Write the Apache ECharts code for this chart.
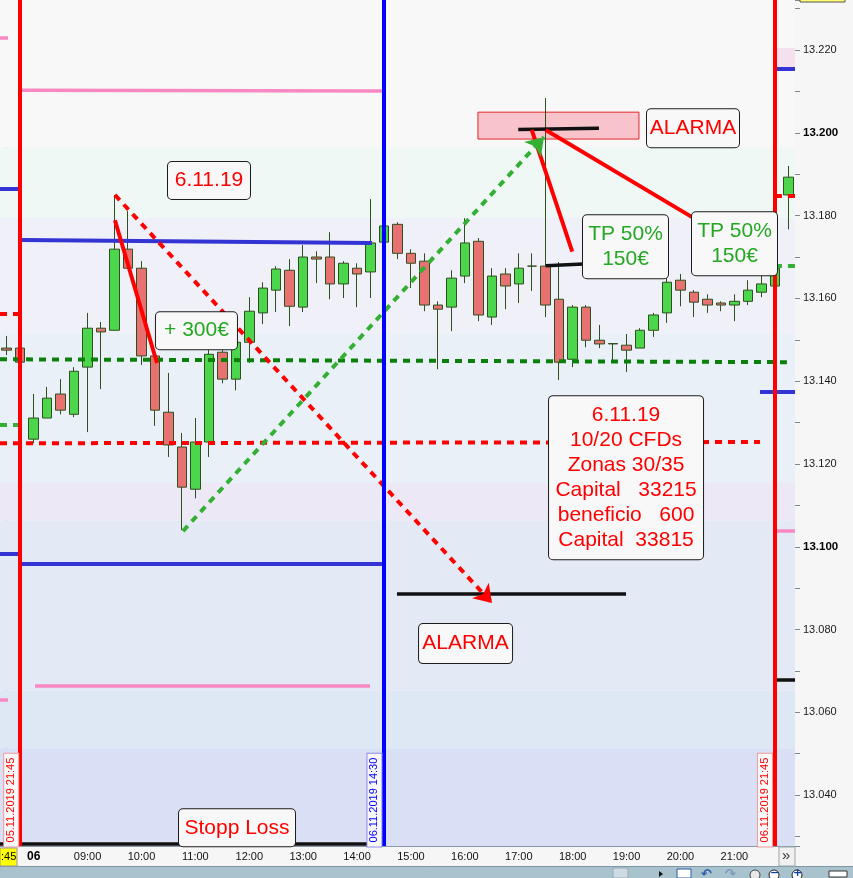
<!DOCTYPE html>
<html>
<head>
<meta charset="utf-8">
<title>CFD 06.11.2019</title>
<script src="https://cdn.jsdelivr.net/npm/echarts@6.0.0/dist/echarts.min.js"></script>
<style>
html, body { margin: 0; padding: 0; background: #f6f6f6; }
#main { width: 853px; height: 878px; }
</style>
</head>
<body>
<div id="main"></div>
<script>
// velas de 15 minutos, 05.11 21:30 -> 06.11 22:00
var times = ['05.11 21:30', '05.11 21:45',
    '08:00', '08:15', '08:30', '08:45', '09:00', '09:15', '09:30', '09:45',
    '10:00', '10:15', '10:30', '10:45', '11:00', '11:15', '11:30', '11:45',
    '12:00', '12:15', '12:30', '12:45', '13:00', '13:15', '13:30', '13:45',
    '14:00', '14:15', '14:30', '14:45', '15:00', '15:15', '15:30', '15:45',
    '16:00', '16:15', '16:30', '16:45', '17:00', '17:15', '17:30', '17:45',
    '18:00', '18:15', '18:30', '18:45', '19:00', '19:15', '19:30', '19:45',
    '20:00', '20:15', '20:30', '20:45', '21:00', '21:15', '21:30', '21:45', '22:00'];

// [apertura, cierre, minimo, maximo]
var candles = [
    [13.1480, 13.1475, 13.1463, 13.1509], [13.1480, 13.1446, 13.1439, 13.1487],
    [13.1260, 13.1311, 13.1250, 13.1369], [13.1311, 13.1359, 13.1311, 13.1386],
    [13.1369, 13.1330, 13.1320, 13.1405], [13.1320, 13.1424, 13.1313, 13.1434],
    [13.1434, 13.1528, 13.1277, 13.1565], [13.1528, 13.1519, 13.1381, 13.1543],
    [13.1523, 13.1719, 13.1523, 13.1850], [13.1719, 13.1673, 13.1673, 13.1811],
    [13.1673, 13.1461, 13.1439, 13.1690], [13.1461, 13.1330, 13.1292, 13.1461],
    [13.1325, 13.1246, 13.1217, 13.1420], [13.1241, 13.1144, 13.1040, 13.1275],
    [13.1139, 13.1253, 13.1117, 13.1311], [13.1253, 13.1465, 13.1217, 13.1482],
    [13.1470, 13.1405, 13.1395, 13.1492], [13.1405, 13.1494, 13.1378, 13.1504],
    [13.1494, 13.1569, 13.1444, 13.1603], [13.1565, 13.1625, 13.1538, 13.1639],
    [13.1620, 13.1671, 13.1567, 13.1678], [13.1668, 13.1581, 13.1533, 13.1695],
    [13.1579, 13.1700, 13.1567, 13.1729], [13.1700, 13.1695, 13.1637, 13.1714],
    [13.1700, 13.1635, 13.1598, 13.1760], [13.1635, 13.1685, 13.1601, 13.1690],
    [13.1673, 13.1659, 13.1579, 13.1685], [13.1664, 13.1734, 13.1601, 13.1840],
    [13.1736, 13.1775, 13.1729, 13.1784], [13.1779, 13.1709, 13.1695, 13.1784],
    [13.1709, 13.1685, 13.1625, 13.1719], [13.1690, 13.1584, 13.1569, 13.1709],
    [13.1584, 13.1574, 13.1429, 13.1593], [13.1579, 13.1649, 13.1521, 13.1668],
    [13.1654, 13.1734, 13.1637, 13.1794], [13.1738, 13.1560, 13.1545, 13.1746],
    [13.1555, 13.1654, 13.1536, 13.1673], [13.1659, 13.1630, 13.1574, 13.1673],
    [13.1635, 13.1673, 13.1589, 13.1709], [13.1678, 13.1678, 13.1618, 13.1709],
    [13.1678, 13.1584, 13.1555, 13.2084], [13.1598, 13.1446, 13.1403, 13.1688],
    [13.1453, 13.1579, 13.1434, 13.1584], [13.1579, 13.1499, 13.1482, 13.1584],
    [13.1499, 13.1490, 13.1480, 13.1536], [13.1491, 13.1490, 13.1446, 13.1492],
    [13.1487, 13.1475, 13.1422, 13.1514], [13.1480, 13.1523, 13.1480, 13.1528],
    [13.1523, 13.1560, 13.1507, 13.1565], [13.1565, 13.1639, 13.1541, 13.1651],
    [13.1644, 13.1620, 13.1581, 13.1659], [13.1615, 13.1591, 13.1555, 13.1620],
    [13.1598, 13.1584, 13.1565, 13.1610], [13.1589, 13.1584, 13.1569, 13.1593],
    [13.1584, 13.1593, 13.1545, 13.1610], [13.1593, 13.1620, 13.1584, 13.1644],
    [13.1615, 13.1635, 13.1603, 13.1656], [13.1630, 13.1673, 13.1625, 13.1688],
    [13.1850, 13.1893, 13.1767, 13.1920]
];

var priceMin = 13.0277, priceMax = 13.2321;

// zonas de fondo (limites de precio, de arriba a abajo)
var zoneEdges = [13.2321, 13.1965, 13.1794, 13.1516, 13.1154, 13.1064, 13.0653, 13.0513, 13.0277];
var alarmZone = [[34.97, 13.2050], [46.92, 13.1985]];
var topZone = [[57.01, 13.2205], [58.5, 13.2151]];

// lineas dibujadas: [[vela, precio], [vela, precio]]  (vela = indice en times)
var pinkLines = [
    [[1.13, 13.2103], [27.85, 13.2101]], [[-0.5, 13.2229], [0.09, 13.2229]],
    [[2.10, 13.0664], [26.96, 13.0664]], [[-0.5, 13.0630], [0.09, 13.0630]],
    [[57.01, 13.1038], [58.5, 13.1038]]
];
var blueLines = [
    [[1.13, 13.1741], [27.11, 13.1734]], [[-0.5, 13.1866], [0.98, 13.1866]],
    [[1.13, 13.0958], [27.92, 13.0958]], [[-0.5, 13.0982], [0.98, 13.0982]],
    [[57.01, 13.2154], [58.5, 13.2154]], [[55.9, 13.1374], [58.5, 13.1374]]
];
var blackLines = [
    [[37.96, 13.2008], [43.95, 13.2011]], [[40.0, 13.1679], [42.79, 13.1683]],
    [[28.96, 13.0886], [45.96, 13.0886]], [[-0.5, 13.0283], [26.96, 13.0283]],
    [[57.01, 13.0678], [58.5, 13.0678]]
];
var redLines = [
    [[8.03, 13.1789], [11.15, 13.1444]],
    [[38.96, 13.2007], [41.97, 13.1713]],
    [[40.0, 13.2007], [50.83, 13.1797]]
];
var redDashed = [
    [[-0.5, 13.1250], [55.9, 13.1253]], [[-0.5, 13.1562], [0.84, 13.1562]],
    [[57.01, 13.1847], [58.5, 13.1847]]
];
var greenDashed = [
    [[-0.5, 13.1294], [0.84, 13.1294]], [[57.01, 13.1678], [58.5, 13.1678]]
];
var supportLine = [[-0.5, 13.1453], [57.9, 13.1446]];
var redArrow = [[8.03, 13.1850], [36.01, 13.0864]];
var greenArrow = [[13.08, 13.1038], [39.87, 13.1990]];

// sesiones
var sessionIdx = [1, 28, 57];
var sessionTexts = ['05.11.2019 21:45', '06.11.2019 14:30', '06.11.2019 21:45'];
var sessionAnchors = [[0.33, 13.0388], [27.29, 13.0388], [56.27, 13.0388]];

// notas
var noteTexts = ['6.11.19', '+ 300€', 'ALARMA', 'TP 50%\n150€', 'TP 50%\n150€',
    '6.11.19\n10/20 CFDs\nZonas 30/35\nCapital   33215\nbeneficio   600\nCapital  33815',
    'ALARMA', 'Stopp Loss'];
var noteAnchors = [[15.01, 13.1885], [14.08, 13.1522], [50.93, 13.2011], [45.92, 13.1725],
    [54.01, 13.1732], [45.96, 13.1167], [34.05, 13.0766], [17.09, 13.0321]];

var FONT = 'Liberation Sans';
var RED = '#ff0000', GREEN = '#24a824';

var zoneColors = ['#f8f8f8', '#f0f8f6', '#f0f0f8', '#eaf0f8', '#ece8f5', '#e4e9f6', '#dee8f4', '#d9e0f5'];
var bands = [];
for (var z = 0; z < zoneColors.length; z++) {
    bands.push([{yAxis: zoneEdges[z], itemStyle: {color: zoneColors[z]}}, {yAxis: zoneEdges[z + 1]}]);
}
bands.push([{coord: alarmZone[0], itemStyle: {color: '#f8c3cb', borderColor: '#e02828', borderWidth: 1}}, {coord: alarmZone[1]}]);
bands.push([{coord: topZone[0], itemStyle: {color: '#f5e1ee'}}, {coord: topZone[1]}]);

function seg(list, style) {
    return list.map(function (c) {
        return {coords: c, lineStyle: style};
    });
}

var lineData = []
    .concat(seg(pinkLines, {color: '#f888c4', width: 3.5}))
    .concat(seg(blueLines, {color: '#3434d4', width: 4}))
    .concat(seg(blackLines, {color: '#111111', width: 3.5}))
    .concat(seg([supportLine], {color: '#0a7f0a', width: 4, type: [7, 6]}))
    .concat(seg(redDashed, {color: RED, width: 4, type: [7, 6]}))
    .concat(seg(greenDashed, {color: '#33b033', width: 4, type: [7, 6]}))
    .concat(seg(redLines, {color: RED, width: 4}));

var arrowData = seg([redArrow], {color: RED, width: 4, type: [7, 6]})
    .concat(seg([greenArrow], {color: '#33b033', width: 4, type: [7, 6]}));

var sessionColors = [RED, '#0000ff', RED];
var vertData = sessionIdx.map(function (ix, i) {
    return {coords: [[ix, priceMin], [ix, priceMax]], lineStyle: {color: sessionColors[i], width: 4}};
});

var sessionLabels = sessionAnchors.map(function (a, i) {
    return {
        value: a,
        label: {
            show: true, position: 'inside', rotate: 90, formatter: sessionTexts[i], opacity: 1,
            color: sessionColors[i], fontSize: 11, fontFamily: FONT, lineHeight: 12,
            backgroundColor: '#f8f8f8', borderColor: i === 1 ? '#8c8cf0' : '#f09a9a',
            borderWidth: 1, padding: [1, 4, 1, 4]
        }
    };
});

// ancho y relleno de cada caja de nota
var noteLook = [
    {c: RED, w: 82, pad: [6, 0, 6, 0]},
    {c: GREEN, w: 81, pad: [6, 0, 6, 0]},
    {c: RED, w: 92, pad: [6, 0, 7, 0]},
    {c: GREEN, w: 85, pad: [6, 0, 7, 0]},
    {c: GREEN, w: 85, pad: [6, 0, 7, 0]},
    {c: RED, w: 154, pad: [6, 0, 7, 0]},
    {c: RED, w: 93, pad: [7, 0, 7, 0]},
    {c: RED, w: 116, pad: [6, 0, 6, 0]}
];
var noteData = noteAnchors.map(function (a, i) {
    var l = noteLook[i];
    return {
        value: a,
        label: {
            show: true, position: 'inside', formatter: noteTexts[i], opacity: 1,
            color: l.c, fontSize: 21, fontFamily: FONT, lineHeight: 25,
            backgroundColor: '#f8f8f8', borderColor: '#1c1c1c', borderWidth: 1, borderRadius: 4,
            width: l.w, padding: l.pad, align: 'center', verticalAlign: 'middle'
        }
    };
});

var chart = echarts.init(document.getElementById('main'));
chart.setOption({
    animation: false,
    backgroundColor: '#f6f6f6',
    grid: {left: 0, right: 58, top: 0, bottom: 32, show: true, backgroundColor: '#f8f8f8', borderWidth: 0, outerBoundsMode: 'none'},
    xAxis: [{
        type: 'category', data: times, boundaryGap: true,
        axisLine: {show: true, lineStyle: {color: '#8a98a6', width: 1}},
        axisTick: {show: false},
        splitLine: {show: false},
        axisLabel: {
            interval: function (i, v) {
                return i === 2 || (i >= 6 && i <= 54 && /:00$/.test(v));
            },
            formatter: function (v, i) {
                return i === 2 ? '{d|06}' : v;
            },
            rich: {d: {fontWeight: 'bold', fontSize: 12, color: '#000'}},
            fontSize: 11, color: '#111', fontFamily: FONT, margin: 5
        }
    }, {
        type: 'value', min: -0.5, max: 58.5, show: false
    }],
    yAxis: [{
        type: 'value', position: 'right', min: priceMin, max: priceMax, splitNumber: 10,
        axisLine: {show: true, lineStyle: {color: '#7a8a99'}},
        axisTick: {show: false},
        splitLine: {show: false},
        axisLabel: {
            margin: 8, fontSize: 11, color: '#1a1a1a', fontFamily: FONT,
            showMinLabel: false, showMaxLabel: false,
            formatter: function (v) {
                var s = v.toFixed(3);
                return (s === '13.200' || s === '13.100') ? '{b|' + s + '}' : s;
            },
            rich: {b: {fontWeight: 'bold', fontSize: 11.5, color: '#000'}}
        }
    }, {
        type: 'value', position: 'right', min: priceMin, max: priceMax, splitNumber: 20,
        axisLine: {show: false}, axisLabel: {show: false}, splitLine: {show: false},
        axisTick: {show: true, length: 5, lineStyle: {color: '#7a8a99'}}
    }],
    series: [{
        // zonas
        type: 'line', xAxisIndex: 1, yAxisIndex: 0, data: [], z: 0, silent: true,
        markArea: {silent: true, data: bands}
    }, {
        type: 'candlestick', xAxisIndex: 0, yAxisIndex: 0, data: candles, barWidth: 10, z: 2, silent: true,
        itemStyle: {
            color: '#4cd64c', color0: '#e87272',
            borderColor: '#2f4f1f', borderColor0: '#2f4f1f', borderColorDoji: '#2f4f1f', borderWidth: 1
        }
    }, {
        type: 'lines', coordinateSystem: 'cartesian2d', xAxisIndex: 1, yAxisIndex: 0, z: 4, silent: true,
        lineStyle: {opacity: 1, curveness: 0}, data: lineData
    }, {
        type: 'lines', coordinateSystem: 'cartesian2d', xAxisIndex: 1, yAxisIndex: 0, z: 4, silent: true,
        symbol: ['none', 'arrow'], symbolSize: 17,
        lineStyle: {opacity: 1, curveness: 0}, data: arrowData
    }, {
        type: 'lines', coordinateSystem: 'cartesian2d', xAxisIndex: 1, yAxisIndex: 0, z: 5, silent: true,
        lineStyle: {opacity: 1, curveness: 0}, data: vertData
    }, {
        type: 'scatter', xAxisIndex: 1, yAxisIndex: 0, z: 9, silent: true, clip: false,
        symbolSize: 1, itemStyle: {color: 'rgba(0,0,0,0)', opacity: 1}, data: sessionLabels
    }, {
        type: 'scatter', xAxisIndex: 1, yAxisIndex: 0, z: 10, silent: true, clip: false,
        symbolSize: 1, itemStyle: {color: 'rgba(0,0,0,0)', opacity: 1}, data: noteData
    }],
    graphic: [
        // barra inferior
        {type: 'rect', shape: {x: 0, y: 866, width: 853, height: 12}, style: {fill: '#a8c2ce'}, z: 100},
        {type: 'line', shape: {x1: 0, y1: 866.5, x2: 853, y2: 866.5}, style: {stroke: '#7f98a6'}, z: 101},
        {type: 'rect', shape: {x: 613, y: 868, width: 15, height: 10}, style: {fill: '#cddbe2', stroke: '#98aab4'}, z: 101},
        {type: 'polygon', shape: {points: [[659, 871], [663, 874], [659, 877]]}, style: {fill: '#111'}, z: 101},
        {type: 'rect', shape: {x: 677, y: 869, width: 14, height: 9}, style: {fill: '#ffffff', stroke: '#2f5fa8'}, z: 101},
        {type: 'text', style: {x: 701, y: 868, text: '↶', fill: '#2f5fa8', font: 'bold 13px DejaVu Sans'}, z: 101},
        {type: 'text', style: {x: 725, y: 868, text: '↷', fill: '#7d9ab8', font: 'bold 13px DejaVu Sans'}, z: 101},
        {type: 'circle', shape: {cx: 755, cy: 875, r: 5}, style: {fill: '#e8e8e8', stroke: '#444'}, z: 101},
        {type: 'circle', shape: {cx: 774, cy: 875, r: 5}, style: {fill: '#ffffff', stroke: '#222'}, z: 101},
        {type: 'text', style: {x: 770, y: 868, text: '−', fill: '#1040a0', font: 'bold 11px DejaVu Sans'}, z: 102},
        {type: 'circle', shape: {cx: 797, cy: 875, r: 5}, style: {fill: '#ffffff', stroke: '#222'}, z: 101},
        {type: 'text', style: {x: 793, y: 868, text: '+', fill: '#1040a0', font: 'bold 11px DejaVu Sans'}, z: 102},
        {type: 'rect', shape: {x: 829, y: 871, width: 18, height: 6}, style: {fill: '#ffffff', stroke: '#333'}, z: 101},
        // etiquetas de la interfaz
        {type: 'rect', shape: {x: 0, y: 848, width: 17, height: 18}, style: {fill: '#ffff00', stroke: '#999'}, z: 101},
        {type: 'text', style: {x: 1, y: 851, text: ':45', fill: '#000', font: '11px Liberation Sans'}, z: 102},
        {type: 'rect', shape: {x: 779, y: 847, width: 16, height: 19}, style: {fill: '#f0f0f0', stroke: '#9aa'}, z: 101},
        {type: 'text', style: {x: 782, y: 848, text: '»', fill: '#333', font: '15px Liberation Sans'}, z: 102},
        {type: 'rect', shape: {x: 800, y: -6, width: 45, height: 8}, style: {fill: '#ffff70', stroke: '#555'}, z: 101}
    ]
});
</script>
</body>
</html>
